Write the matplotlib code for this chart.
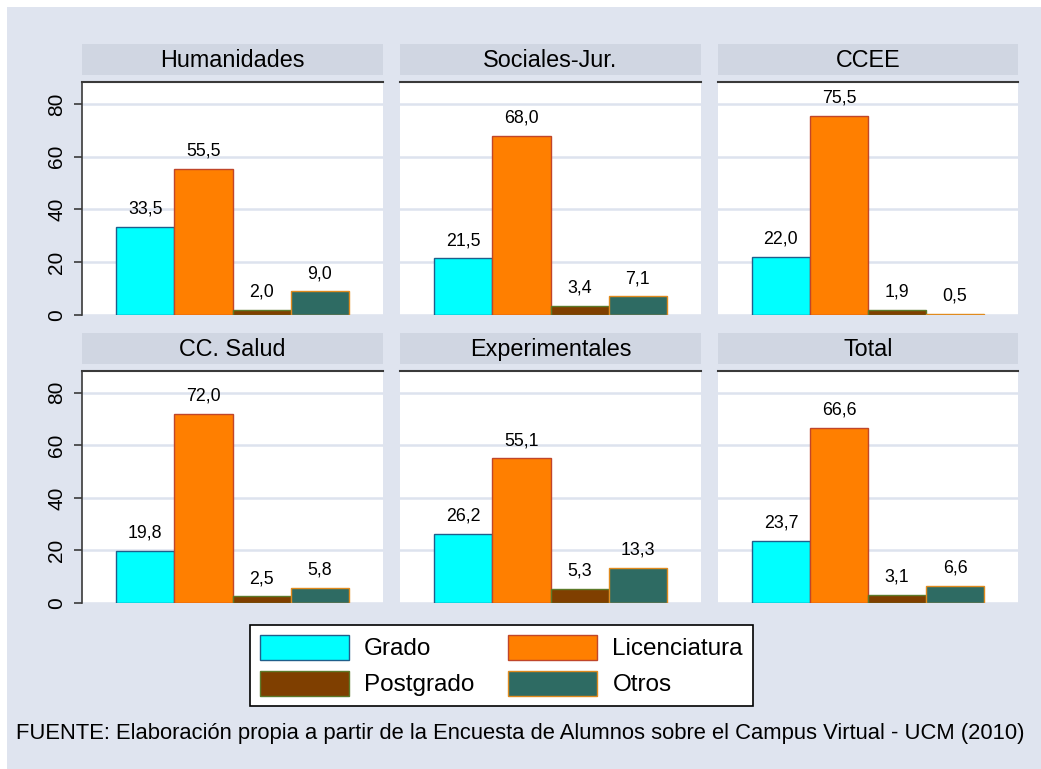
import matplotlib
matplotlib.use("Agg")
import matplotlib.pyplot as plt
from matplotlib.patches import Rectangle, Patch

plt.rcParams['font.family'] = ['Liberation Sans', 'DejaVu Sans']

panels = ["Humanidades", "Sociales-Jur.", "CCEE", "CC. Salud", "Experimentales", "Total"]
series = ["Grado", "Licenciatura", "Postgrado", "Otros"]
grado = [33.5, 21.5, 22.0, 19.8, 26.2, 23.7]
licenciatura = [55.5, 68.0, 75.5, 72.0, 55.1, 66.6]
postgrado = [2.0, 3.4, 1.9, 2.5, 5.3, 3.1]
otros = [9.0, 7.1, 0.5, 5.8, 13.3, 6.6]
yticks = [0, 20, 40, 60, 80]
caption = "FUENTE: Elaboración propia a partir de la Encuesta de Alumnos sobre el Campus Virtual - UCM (2010)"

face = ["#00FFFF", "#FF7F00", "#7F3F00", "#2E6B63"]
edge = ["#1F5F8B", "#C0462A", "#5C7A2A", "#E08A1E"]

W, H = 1041, 769
BG = "#DFE4EF"
STRIP = "#D0D6E2"
fig = plt.figure(figsize=(W / 100, H / 100), dpi=100, facecolor="white")
fig.patches.append(Rectangle((7 / W, 0), 1 - 7 / W, 1 - 7 / H, transform=fig.transFigure,
                             facecolor=BG, edgecolor="none", zorder=-10))

cols = [(82, 383), (400, 701), (718, 1018)]
rows = [((44, 75), (82, 315)), ((333, 364), (371, 603))]

data = list(zip(grado, licenciatura, postgrado, otros))

for i, name in enumerate(panels):
    r, c = divmod(i, 3)
    (sx0, sx1) = cols[c]
    (st, sb), (pt, pb) = rows[r]
    # strip
    sax = fig.add_axes([sx0 / W, 1 - sb / H, (sx1 - sx0) / W, (sb - st) / H])
    sax.set_facecolor(STRIP)
    for s in sax.spines.values():
        s.set_visible(False)
    sax.set_xticks([]); sax.set_yticks([])
    sax.text(0.5, 0.47, name, ha="center", va="center", fontsize=16.8, transform=sax.transAxes)

    ax = fig.add_axes([sx0 / W, 1 - pb / H, (sx1 - sx0) / W, (pb - pt) / H])
    ax.set_facecolor("white")
    vals = data[i]
    xs = list(range(len(series)))
    ax.bar(xs, vals, width=1.0, color=face, edgecolor=edge, linewidth=1.0, zorder=3)
    for x, v in zip(xs, vals):
        ax.annotate(f"{v:.1f}".replace(".", ","), (x, v), xytext=(0, 9.5),
                    textcoords="offset points", ha="center", va="baseline", fontsize=12.8)
    ax.set_xlim(-1.084, 4.084)
    ax.set_ylim(0, 88.3)
    ax.set_yticks(yticks)
    ax.grid(axis="y", color="#DDE3EE", linewidth=1.8, zorder=0)
    ax.set_axisbelow(True)
    ax.set_xticks([])
    for s in ["right", "bottom"]:
        ax.spines[s].set_visible(False)
    ax.spines["top"].set_color("#3A3A3A")
    ax.spines["top"].set_linewidth(1.5)
    if c == 0:
        ax.spines["left"].set_color("#3A3A3A")
        ax.spines["left"].set_linewidth(1.2)
        ax.tick_params(axis="y", direction="out", length=6, width=1.2, color="#3A3A3A",
                       pad=5.5, labelsize=15, labelrotation=90)
        for lab in ax.get_yticklabels():
            lab.set_va("center")
    else:
        ax.spines["left"].set_visible(False)
        ax.tick_params(axis="y", length=0, labelleft=False)

handles = [Patch(facecolor=face[k], edgecolor=edge[k], linewidth=1.0) for k in range(4)]
order = [0, 2, 1, 3]  # row-wise fill: Grado, Licenciatura / Postgrado, Otros
leg = fig.legend([handles[k] for k in order], [series[k] for k in order], ncol=2, loc="center",
                 bbox_to_anchor=(501.5 / W, 1 - 665.5 / H), bbox_transform=fig.transFigure,
                 fontsize=17.5, frameon=True, fancybox=False, edgecolor="black", framealpha=1,
                 handlelength=3.66, handleheight=1.2, handletextpad=0.62,
                 columnspacing=1.4, labelspacing=0.42, borderpad=0.41)
leg.get_frame().set_linewidth(1.2)
leg.get_frame().set_facecolor("white")

fig.text(520 / W, 1 - 733 / H, caption, ha="center", va="center", fontsize=15.8)

fig.savefig("out.png", dpi=100, facecolor=fig.get_facecolor())
